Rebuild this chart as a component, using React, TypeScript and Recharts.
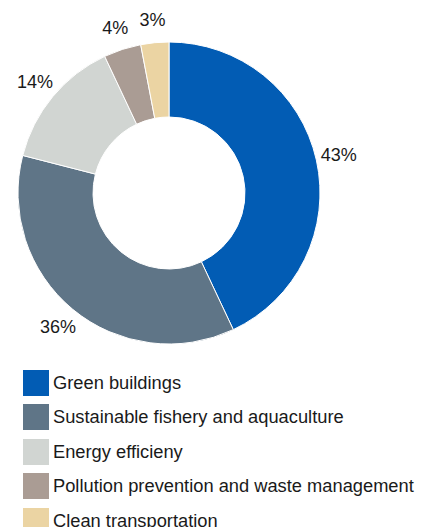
import { PieChart, Pie, Cell, Legend } from 'recharts';

const CATEGORIES = [
  'Green buildings',
  'Sustainable fishery and aquaculture',
  'Energy efficieny',
  'Pollution prevention and waste management',
  'Clean transportation',
];
const SHARES = [43, 36, 14, 4, 3];
const COLORS = ['#025cb4', '#5f7587', '#d1d5d2', '#aa9c94', '#ebd4a3'];

const FONT = '"Liberation Sans", Arial, sans-serif';
const RAD = Math.PI / 180;

const data = CATEGORIES.map((name, i) => ({ name, value: SHARES[i] }));

function renderLabel(props: any) {
  const { cx, cy, midAngle, outerRadius, value } = props;
  const r = outerRadius + 23;
  const x = cx + r * Math.cos(-midAngle * RAD);
  const y = cy + r * Math.sin(-midAngle * RAD);
  return (
    <text
      x={x}
      y={y}
      textAnchor="middle"
      dominantBaseline="central"
      fill="#1a1a1a"
      fontSize={18}
      fontFamily={FONT}
    >
      {`${value}%`}
    </text>
  );
}

function LegendList() {
  return (
    <div style={{ fontFamily: FONT, fontSize: 18.3, color: '#1a1a1a' }}>
      {CATEGORIES.map((name, i) => (
        <div key={name} style={{ display: 'flex', alignItems: 'center', height: 34.5 }}>
          <span
            style={{
              display: 'inline-block',
              width: 26,
              height: 26,
              background: COLORS[i],
              marginRight: 4,
              flexShrink: 0,
            }}
          />
          <span style={{ whiteSpace: 'nowrap' }}>{name}</span>
        </div>
      ))}
    </div>
  );
}

export default function App() {
  return (
    <div style={{ width: 419, height: 519 }}>
      <PieChart width={419} height={519} margin={{ top: 0, right: 0, bottom: 0, left: 0 }}>
        <Pie
          data={data}
          dataKey="value"
          nameKey="name"
          cx={161}
          cy={185}
          outerRadius={151}
          innerRadius={76}
          startAngle={90}
          endAngle={-270}
          stroke="#ffffff"
          strokeWidth={1}
          labelLine={false}
          label={renderLabel}
          isAnimationActive={false}
        >
          {data.map((_, i) => (
            <Cell key={`cell-${i}`} fill={COLORS[i]} />
          ))}
        </Pie>
        <Legend
          content={() => <LegendList />}
          wrapperStyle={{ position: 'absolute', left: 15, top: 357.5, width: 404, overflow: 'visible' }}
        />
      </PieChart>
    </div>
  );
}
